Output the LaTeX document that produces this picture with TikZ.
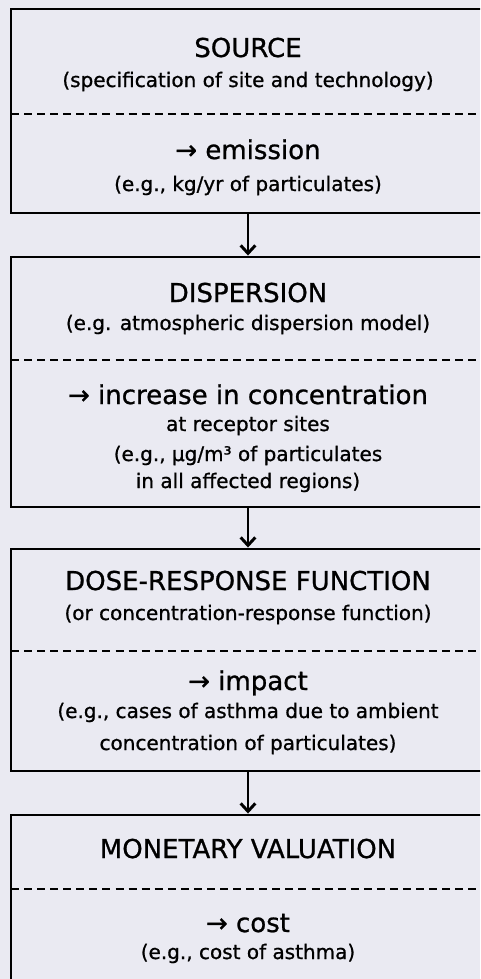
\documentclass[tikz,border=0pt]{standalone}
\usepackage{fontspec}
\setmainfont{DejaVu Sans}[FakeBold=0.9]
\usetikzlibrary{arrows.meta,positioning,calc}
\definecolor{paperbg}{HTML}{EAEAF2}
\tikzset{stage/.style={rectangle,draw,line width=2.2pt,minimum width=355.5pt,inner sep=0pt},head/.style={anchor=base,inner sep=0pt,font=\fontsize{19.5pt}{23pt}\selectfont},note/.style={anchor=base,inner sep=0pt,font=\fontsize{15pt}{18pt}\selectfont},divider/.style={line width=1.6pt,dash pattern=on 6pt off 3.8pt},flow/.style={-{Straight Barb[length=6pt,width=11pt,line width=2.2pt]},line width=2.2pt},every picture/.style={line cap=butt}}
\begin{document}
\begin{tikzpicture}[x=0.75pt,y=-0.75pt]
\useasboundingbox (0,0) rectangle (480,979);
\clip (0,0) rectangle (480,979);
\fill[paperbg] (0,0) rectangle (480,979);
% the four stages
\node[stage,minimum height=153pt] (src) at (248,111) {};
\node[stage,minimum height=187.5pt] (disp) at (248,382) {};
\node[stage,minimum height=166.5pt] (dose) at (248,660) {};
\node[stage,minimum height=138.75pt] (val) at (248,907.5) {};
\foreach \y in {114,360,651,889}{\draw[divider] (11,\y)--(485,\y);}
% stage texts
\node[head] (srcT) at (248,57) {SOURCE};
\node[note] (srcN) at (248,87) {(specification of site and technology)};
\node[head] (emiT) at (248,159) {→ emission};
\node[note] (emiN) at (248,191) {(e.g., kg/yr of particulates)};
\node[head] (dispT) at (248,302) {DISPERSION};
\node[note] (dispN) at (248,330) {(e.g. atmospheric dispersion model)};
\node[head] (concT) at (248,404) {→ increase in concentration};
\node[note] (concA) at (248,431) {at receptor sites};
\node[note] (concB) at (248,461) {(e.g., μg/m³ of particulates};
\node[note] (concC) at (248,488) {in all affected regions)};
\node[head] (doseT) at (248,590) {DOSE-RESPONSE FUNCTION};
\node[note] (doseN) at (248,620) {(or concentration-response function)};
\node[head] (impT) at (248,690) {→ impact};
\node[note] (impA) at (248,718) {(e.g., cases of asthma due to ambient};
\node[note] (impB) at (248,750) {concentration of particulates)};
\node[head] (valT) at (248,858) {MONETARY VALUATION};
\node[head] (costT) at (248,932) {→ cost};
\node[note] (costN) at (248,959) {(e.g., cost of asthma)};
% flow between stages
\draw[flow] (src)--(disp);
\draw[flow] (disp)--(dose);
\draw[flow] (dose)--(val);
\end{tikzpicture}
\end{document}
